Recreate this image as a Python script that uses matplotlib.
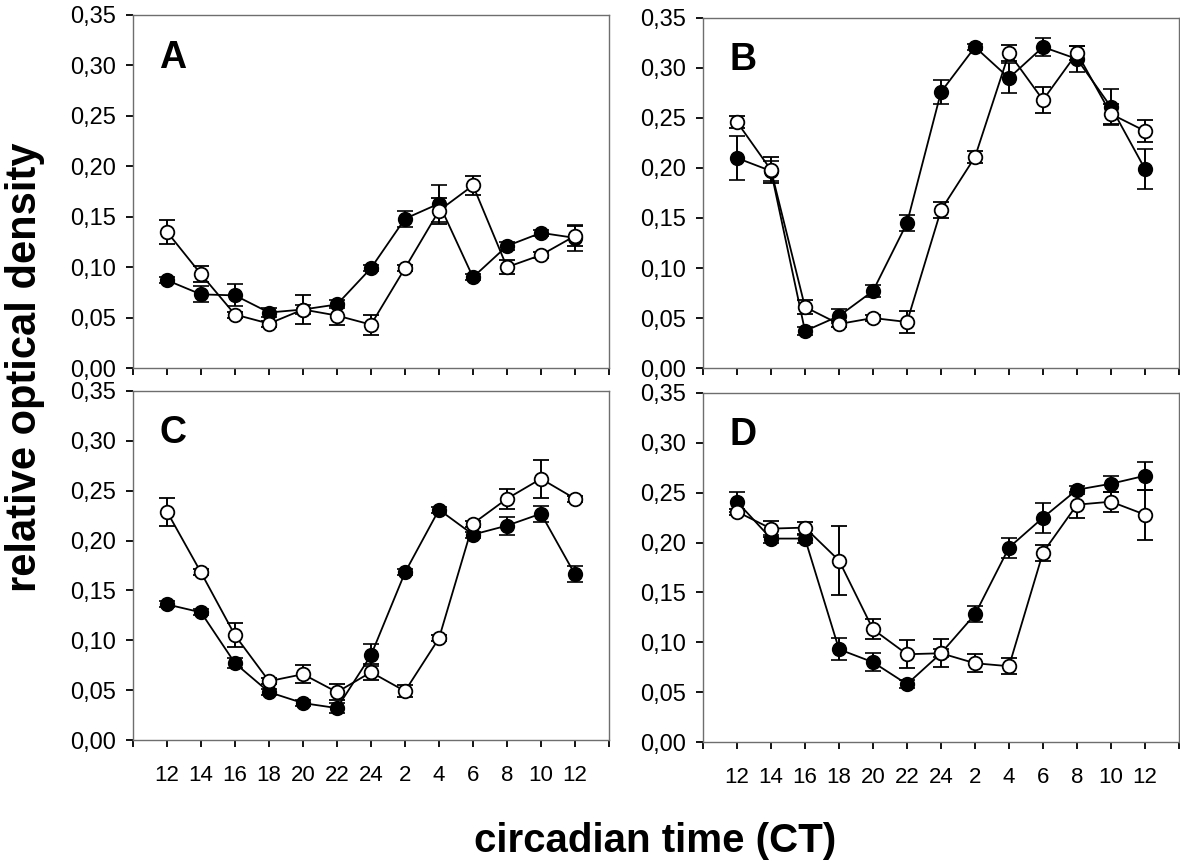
import matplotlib
matplotlib.use('Agg')
import matplotlib.pyplot as plt

# x tick labels (circadian time)
ct_labels = ['12', '14', '16', '18', '20', '22', '24', '2', '4', '6', '8', '10', '12']
y_ticks = [0.00, 0.05, 0.10, 0.15, 0.20, 0.25, 0.30, 0.35]

# panel A
a_filled = [0.087, 0.073, 0.072, 0.055, 0.058, 0.063, 0.099, 0.148, 0.163, 0.090, 0.121, 0.134, 0.129]
a_filled_err = [0.003, 0.008, 0.011, 0.004, 0.004, 0.004, 0.003, 0.008, 0.018, 0.003, 0.004, 0.003, 0.013]
a_open = [0.135, 0.093, 0.053, 0.044, 0.058, 0.052, 0.043, 0.099, 0.156, 0.181, 0.100, 0.112, 0.131]
a_open_err = [0.012, 0.008, 0.003, 0.003, 0.014, 0.009, 0.010, 0.003, 0.013, 0.009, 0.007, 0.003, 0.010]

# panel B
b_filled = [0.210, 0.197, 0.037, 0.052, 0.077, 0.145, 0.276, 0.321, 0.290, 0.321, 0.309, 0.261, 0.199]
b_filled_err = [0.022, 0.010, 0.004, 0.007, 0.006, 0.008, 0.012, 0.003, 0.015, 0.009, 0.013, 0.018, 0.020]
b_open = [0.246, 0.198, 0.061, 0.044, 0.050, 0.046, 0.158, 0.211, 0.315, 0.268, 0.315, 0.254, 0.237]
b_open_err = [0.006, 0.013, 0.007, 0.003, 0.003, 0.011, 0.008, 0.006, 0.008, 0.013, 0.007, 0.010, 0.011]

# panel C
c_filled = [0.136, 0.128, 0.077, 0.048, 0.037, 0.032, 0.085, 0.168, 0.231, 0.206, 0.215, 0.227, 0.166]
c_filled_err = [0.003, 0.003, 0.005, 0.003, 0.003, 0.005, 0.011, 0.003, 0.003, 0.003, 0.009, 0.008, 0.008]
c_open = [0.229, 0.168, 0.105, 0.059, 0.066, 0.048, 0.068, 0.049, 0.102, 0.217, 0.242, 0.262, 0.242]
c_open_err = [0.014, 0.003, 0.012, 0.003, 0.009, 0.008, 0.008, 0.006, 0.003, 0.003, 0.010, 0.019, 0.003]

# panel D
d_filled = [0.241, 0.204, 0.204, 0.093, 0.080, 0.058, 0.089, 0.128, 0.195, 0.225, 0.253, 0.259, 0.267]
d_filled_err = [0.010, 0.004, 0.004, 0.011, 0.009, 0.004, 0.004, 0.008, 0.010, 0.015, 0.004, 0.008, 0.014]
d_open = [0.231, 0.214, 0.215, 0.182, 0.113, 0.088, 0.089, 0.079, 0.076, 0.190, 0.238, 0.241, 0.228]
d_open_err = [0.003, 0.008, 0.006, 0.035, 0.010, 0.014, 0.014, 0.009, 0.008, 0.008, 0.013, 0.010, 0.025]

panels = [
    ('A', a_filled, a_filled_err, a_open, a_open_err, [133, 609, 15, 368]),
    ('B', b_filled, b_filled_err, b_open, b_open_err, [703, 1179, 18, 368]),
    ('C', c_filled, c_filled_err, c_open, c_open_err, [133, 609, 391, 740]),
    ('D', d_filled, d_filled_err, d_open, d_open_err, [703, 1179, 393, 742]),
]

W, H = 1180, 863
plt.rcParams['font.family'] = ['Liberation Sans', 'DejaVu Sans']
fig = plt.figure(figsize=(W / 100, H / 100), dpi=100)

x = list(range(1, len(ct_labels) + 1))
spine_col = '#6e6e6e'

for letter, filled, filled_err, opn, opn_err, (l, r, t, b) in panels:
    ax = fig.add_axes([l / W, 1 - b / H, (r - l) / W, (b - t) / H])
    ax.errorbar(x, filled, yerr=filled_err, color='black', lw=1.3, marker='o', ms=9.8,
                mfc='black', mec='black', mew=1.2, capsize=5.5, capthick=1.6, elinewidth=1.4, zorder=2)
    ax.errorbar(x, opn, yerr=opn_err, color='black', lw=1.3, marker='o', ms=9.8,
                mfc='white', mec='black', mew=1.3, capsize=5.5, capthick=1.6, elinewidth=1.4, zorder=3)
    ax.set_xlim(0, 14)
    ax.set_ylim(0, 0.35)
    ax.set_xticks(range(0, 15))
    ax.set_xticklabels([''] + ct_labels + [''])
    ax.set_yticks(y_ticks)
    ax.set_yticklabels([f'{v:.2f}'.replace('.', ',') for v in y_ticks])
    ax.tick_params(axis='both', direction='out', length=5, width=1.3, color='black')
    ax.tick_params(axis='x', pad=13, labelsize=16)
    ax.tick_params(axis='y', pad=7, labelsize=17)
    for s in ax.spines.values():
        s.set_color(spine_col)
        s.set_linewidth(1.0)
    ax.text(0.055, 0.93, letter, transform=ax.transAxes, fontsize=27, fontweight='bold',
            va='top', ha='left')

fig.text(0.555, 0.0127, 'circadian time (CT)', fontsize=29, fontweight='bold',
         ha='center', va='baseline')
fig.text(0.021, 0.574, 'relative optical density', fontsize=30, fontweight='bold',
         ha='center', va='center', rotation=90)

plt.savefig('out.png', dpi=100)
